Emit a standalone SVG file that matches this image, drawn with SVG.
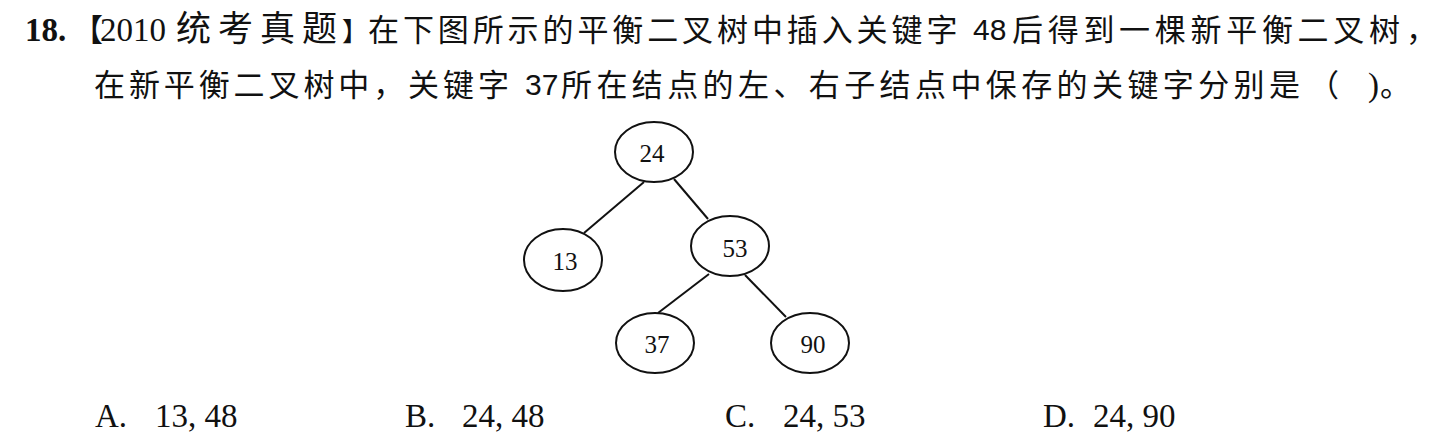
<svg xmlns="http://www.w3.org/2000/svg" width="1439" height="437" viewBox="0 0 1439 437">
<style>
.bg{fill:#ffffff}
.cjk{font-family:"Noto Sans CJK SC","Noto Sans",sans-serif;font-size:31px;fill:#111111}
.ser{font-family:"Liberation Serif","Times New Roman",serif;font-size:33px;fill:#111111}
.num{font-family:"Liberation Sans",Arial,sans-serif;font-size:30px;fill:#111111}
.node{fill:#ffffff;stroke:#111111;stroke-width:2}
.lbl{font-family:"Liberation Serif","Times New Roman",serif;font-size:25px;fill:#111111;text-anchor:middle}
.edge{stroke:#111111;stroke-width:2;fill:none}
</style>
<rect class="bg" x="0" y="0" width="1439" height="437"/>
<g id="question">
<text y="41"><tspan class="ser" x="25" font-weight="bold">18.</tspan><tspan class="cjk" x="72">【</tspan><tspan class="ser" x="100">2010</tspan><tspan class="cjk" x="176" style="font-size:35px;letter-spacing:7px">统考真题</tspan><tspan class="cjk" x="342" style="font-size:26px">】</tspan><tspan class="cjk" x="368" style="letter-spacing:3.9px">在下图所示的平衡二叉树中插入关键字</tspan><tspan class="num" x="973" dy="-1">48</tspan><tspan class="cjk" x="1012" dy="1" style="letter-spacing:4.7px">后得到一棵新平衡二叉树</tspan><tspan class="cjk" x="1406">，</tspan></text>
<text y="96"><tspan class="cjk" x="94" style="letter-spacing:3.9px">在新平衡二叉树中，关键字</tspan><tspan class="num" x="525" dy="-1">37</tspan><tspan class="cjk" x="561" dy="1" style="letter-spacing:4.4px">所在结点的左、右子结点中保存的关键字分别是</tspan><tspan class="cjk" x="1308">（</tspan><tspan class="ser" x="1368">)</tspan><tspan class="cjk" x="1380">。</tspan></text>
</g>
<g id="connectors">
<line class="edge" x1="644" y1="182" x2="584" y2="233"/>
<line class="edge" x1="674" y1="179" x2="708" y2="219"/>
<line class="edge" x1="709" y1="274" x2="658" y2="313"/>
<line class="edge" x1="745" y1="275" x2="786" y2="317"/>
</g>
<g id="node-24">
<ellipse class="node" cx="654" cy="152" rx="39" ry="30"/>
<text class="lbl" x="652" y="162">24</text>
</g>
<g id="node-13">
<ellipse class="node" cx="563" cy="260" rx="39" ry="31"/>
<text class="lbl" x="565" y="270">13</text>
</g>
<g id="node-53">
<ellipse class="node" cx="730" cy="246" rx="39" ry="30"/>
<text class="lbl" x="735" y="257">53</text>
</g>
<g id="node-37">
<ellipse class="node" cx="655" cy="343" rx="39" ry="30"/>
<text class="lbl" x="657" y="353">37</text>
</g>
<g id="node-90">
<ellipse class="node" cx="810" cy="343" rx="39" ry="30"/>
<text class="lbl" x="813" y="353">90</text>
</g>
<g id="options">
<text class="ser" x="95" y="427">A.</text>
<text class="ser" x="155" y="427">13, 48</text>
<text class="ser" x="405" y="427">B.</text>
<text class="ser" x="462" y="427">24, 48</text>
<text class="ser" x="725" y="427">C.</text>
<text class="ser" x="783" y="427">24, 53</text>
<text class="ser" x="1043" y="427">D.</text>
<text class="ser" x="1093" y="427">24, 90</text>
</g>
</svg>
